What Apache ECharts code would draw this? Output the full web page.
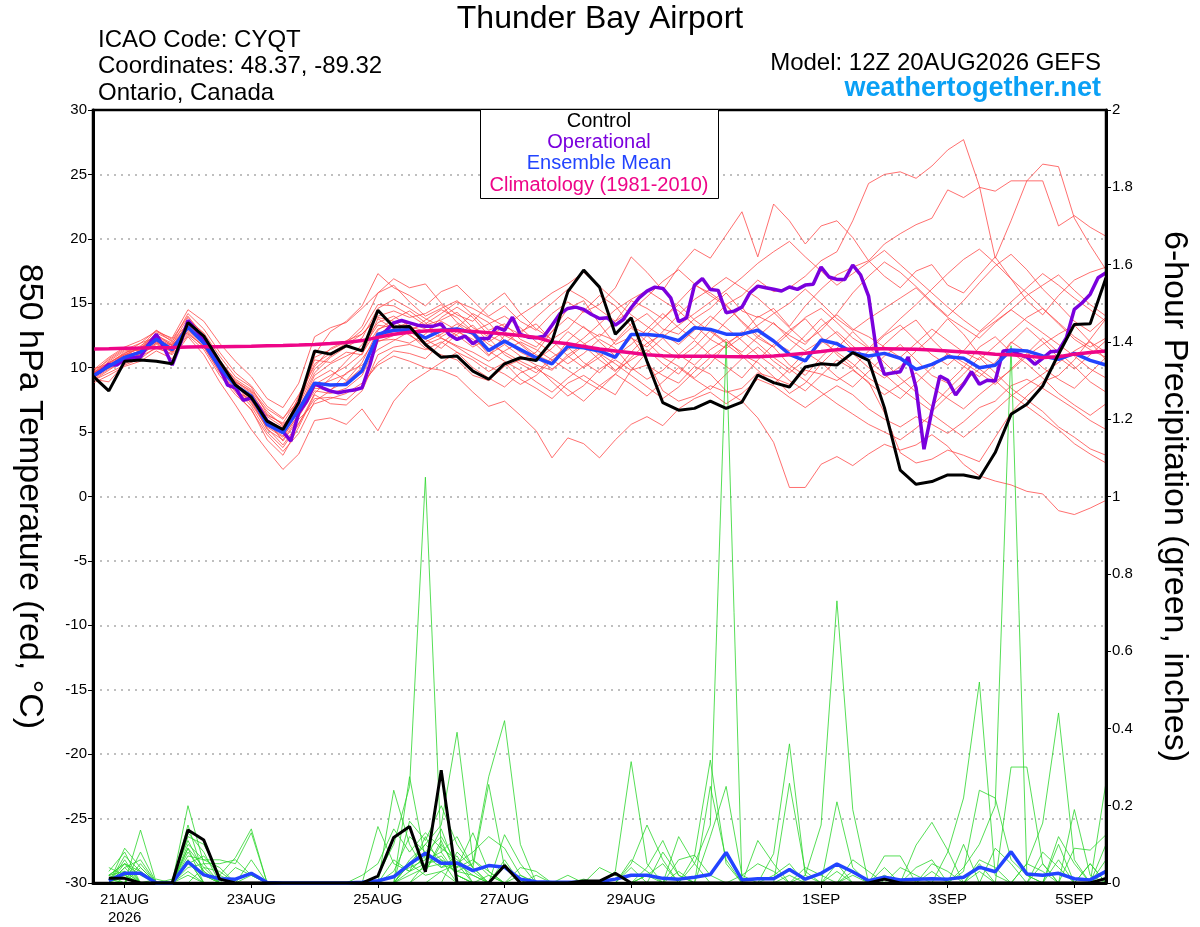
<!DOCTYPE html>
<html>
<head>
<meta charset="utf-8">
<script src="https://cdn.jsdelivr.net/npm/echarts/dist/echarts.min.js"></script>
<style>
html, body { margin: 0; padding: 0; background: #fff; }
#main { width: 1200px; height: 927px; }
</style>
</head>
<body>
<div id="main"></div>
<script>
// x axis: 3-hourly steps from 12Z 20AUG2026 to 12Z 5SEP2026 (129 steps)
var tickIndex = [4, 20, 36, 52, 68, 92, 108, 124];
var tickText = ['21AUG\n2026', '23AUG', '25AUG', '27AUG', '29AUG', '1SEP', '3SEP', '5SEP'];

// control run, 850 hPa temperature (6-hourly)
var control = [9.35,8.2,10.5,10.6,10.5,10.3,13.5,12.45,10.5,8.65,
  7.7,5.85,5.2,7.3,11.3,11.05,11.7,11.3,14.45,13.15,
  13.2,11.8,10.8,10.9,9.73,9.1,10.3,10.77,10.56,12.06,
  15.9,17.57,16.25,12.6,13.87,10.5,7.28,6.7,6.84,7.4,
  6.84,7.33,9.43,8.84,8.5,10.05,10.31,10.21,11.17,10.57,
  6.9,2.04,0.95,1.16,1.67,1.67,1.42,3.41,6.38,7.16,
  8.58,11.04,13.36,13.41,16.98];

// ensemble mean temperature (6-hourly)
var ensMean = [9.35,10.1,10.8,11.2,12.2,11.4,13.15,11.9,10.0,8.6,
  7.8,5.6,4.95,6.75,8.8,8.65,8.7,9.75,12.6,12.9,
  12.95,12.3,12.9,13.0,12.7,11.33,12.06,11.4,10.77,10.3,
  11.67,11.55,11.3,10.8,12.58,12.58,12.45,12.1,13.1,12.97,
  12.6,12.6,12.9,12.07,11.04,10.52,12.15,11.86,11.17,10.91,
  11.11,10.73,9.87,10.26,10.85,10.73,10.0,10.18,11.37,11.3,
  10.91,10.65,11.11,10.57,10.21];

// operational run temperature (3-hourly)
var operational = [9.35,9.73,10.25,10.2,10.64,10.77,10.82,11.8,12.58,11.54,
  10.2,11.8,13.66,12.96,12.06,11.03,10.0,8.65,8.44,7.46,
  7.66,6.9,5.85,5.47,5.03,4.3,6.5,7.4,8.75,8.44,
  8.18,8.05,8.18,8.26,8.44,10.25,12.45,12.84,13.48,13.66,
  13.48,13.3,13.22,13.22,13.4,12.58,12.19,12.45,11.85,12.27,
  12.27,13.15,12.9,13.92,12.58,12.37,12.32,12.45,13.3,14.18,
  14.6,14.7,14.52,14.13,13.82,13.87,13.3,13.74,14.65,15.42,
  15.94,16.25,16.15,15.42,13.56,13.87,16.4,16.92,16.07,16.0,
  14.26,14.39,14.7,15.81,16.33,16.2,16.08,15.95,16.26,16.08,
  16.41,16.47,17.81,17.04,16.85,16.85,17.97,17.19,15.56,11.3,
  9.48,9.59,9.69,10.83,8.45,3.67,6.64,9.35,9.02,7.88,
  8.71,9.69,8.71,9.02,8.97,11.3,11.35,11.04,10.83,10.26,
  10.73,11.24,11.3,12.33,14.53,15.04,15.69,16.98,17.37];

// climatology 1981-2010 (6-hourly)
var climatology = [11.45,11.47,11.5,11.52,11.55,11.57,11.6,11.62,11.63,11.65,
  11.67,11.7,11.72,11.75,11.8,11.87,11.95,12.1,12.35,12.6,
  12.75,12.85,12.9,12.88,12.8,12.72,12.62,12.5,12.35,12.0,
  11.85,11.65,11.45,11.3,11.15,11.0,10.92,10.88,10.88,10.88,
  10.86,10.85,10.85,10.9,11.0,11.12,11.25,11.4,11.45,11.47,
  11.47,11.45,11.42,11.38,11.3,11.22,11.15,11.05,11.0,10.9,
  10.78,10.85,11.05,11.18,11.3];

// ensemble members, temperature (6-hourly)
var m1 = [9.6,10.4,11.0,11.5,12.4,11.8,13.9,12.6,10.6,9.0, 8.1,6.2,5.4,7.0,10.8,11.4,12.0,13.2,15.8,16.4, 15.1,14.0,14.6,15.2,14.1,12.9,13.4,12.2,11.6,12.8, 13.9,13.1,12.4,13.6,15.2,14.6,13.8,15.1,16.4,15.8, 14.9,15.6,16.8,15.9,16.2,17.1,18.3,19.0,21.4,24.3, 25.0,25.2,24.7,25.65,26.9,27.7,24.1,18.5,21.4,24.5, 25.8,25.6,21.6,19.5,17.6];
var m2 = [9.0,9.8,10.6,11.0,11.9,11.2,12.8,11.6,9.6,8.2, 7.5,5.2,4.4,6.2,8.2,8.0,8.4,9.4,12.0,12.5, 12.8,12.0,12.6,13.4,12.5,11.0,11.8,10.9,10.2,9.8, 11.0,11.8,12.6,12.1,13.4,14.2,13.0,12.6,13.8,14.6, 15.8,14.4,13.9,14.6,13.2,14.8,16.1,17.2,17.8,18.3, 19.6,20.4,21.1,21.6,23.8,23.2,24.0,23.7,24.5,24.5, 24.5,21.0,21.8,20.9,20.2];
var m3 = [9.2,10.0,10.9,11.6,12.9,12.0,14.2,13.0,11.2,9.6, 8.6,7.0,6.1,7.4,11.0,12.8,13.6,14.8,17.3,16.2, 15.6,14.8,15.9,16.4,15.2,14.0,14.8,13.6,12.9,14.2, 15.1,14.3,14.9,16.2,18.6,17.4,16.0,17.8,19.2,18.5, 20.3,22.1,18.6,22.7,21.4,19.6,21.0,21.4,20.1,18.3, 17.1,16.2,17.5,18.0,16.4,15.8,17.2,18.6,16.9,15.2, 14.1,15.6,16.8,17.4,17.8];
var m4 = [9.0,9.6,10.2,10.7,11.6,11.0,12.5,11.4,9.4,7.9, 6.8,4.4,3.2,5.4,7.9,7.2,7.1,8.2,11.0,11.6, 11.8,11.4,12.0,11.2,10.6,9.7,10.4,9.1,8.4,7.6, 8.8,9.4,8.6,7.9,9.8,10.2,9.4,8.8,10.1,9.5, 8.2,7.4,6.1,4.2,0.7,0.7,2.5,3.1,2.4,3.3, 4.05,3.6,4.0,4.8,3.9,2.5,1.6,1.2,0.9,0.4, 0.2,-1.1,-1.4,-0.9,-0.3];
var m5 = [9.1,8.9,10.3,10.9,11.5,11.1,13.0,12.2,10.2,8.7, 7.4,5.8,5.0,7.8,10.6,10.4,11.2,11.0,13.8,13.0, 12.6,11.5,11.0,10.6,9.4,9.0,10.1,10.6,11.2,12.8, 14.6,15.2,13.4,11.8,12.4,10.6,8.2,7.4,7.8,8.6, 8.1,8.4,9.6,9.2,8.7,9.8,9.5,9.0,9.8,8.9, 6.5,3.4,2.6,2.9,3.6,3.2,2.7,4.6,6.5,7.8, 8.9,9.4,10.6,12.2,13.8];
var m6 = [9.5,10.2,10.9,11.3,12.0,11.6,12.9,11.8,10.1,8.8, 7.6,5.9,4.3,6.0,7.2,7.6,8.0,8.8,10.2,10.9, 10.5,10.0,9.8,9.3,8.1,7.0,7.4,6.3,5.1,3.0, 4.55,4.1,3.0,4.4,5.6,6.2,5.5,6.8,7.6,8.1, 7.2,8.0,9.1,8.6,7.7,6.9,7.8,8.6,7.9,6.8, 6.0,5.4,6.2,5.6,4.9,5.8,6.9,7.4,8.6,9.1, 8.4,7.6,6.8,5.9,5.2];
var m7 = [9.8,10.8,11.6,12.1,12.8,12.3,14.5,13.6,11.9,10.5, 9.3,7.6,6.9,8.8,12.4,13.1,13.5,14.6,15.8,16.9, 16.2,16.5,15.0,14.1,13.6,14.9,15.8,14.2,13.0,12.2, 13.0,14.4,15.6,14.8,13.2,12.6,13.8,14.9,13.7,12.8, 11.9,12.6,14.0,13.4,12.5,11.8,13.2,14.1,13.0,12.4, 11.6,10.8,11.9,13.0,12.1,11.2,10.6,11.7,12.8,13.9, 14.6,13.5,12.4,11.6,12.3];
var m8 = [8.8,9.4,10.1,10.5,11.3,10.7,12.4,11.0,8.9,7.1, 5.2,3.6,2.1,3.3,5.9,6.1,5.6,6.8,5.1,7.4, 8.8,9.6,10.4,11.2,10.0,9.2,8.5,9.6,10.1,8.9, 7.8,8.6,9.9,10.6,9.8,11.2,12.3,11.0,10.2,11.4, 12.2,11.0,10.4,9.3,8.0,8.8,10.3,11.5,12.8,11.6, 10.4,9.2,8.1,7.0,8.3,9.5,10.8,9.6,8.4,7.5, 6.6,5.4,4.6,3.7,3.2];
var m9 = [9.4,10.3,11.2,11.4,12.6,11.7,13.4,12.3,10.4,8.4, 7.0,5.0,3.8,5.6,8.0,9.2,10.5,11.8,13.5,14.0, 13.2,12.8,13.6,12.9,12.0,10.9,12.5,11.9,11.0,10.4, 12.1,13.2,12.0,10.9,11.8,13.0,14.2,13.1,12.2,13.6, 14.9,13.5,12.3,11.6,10.2,9.4,10.8,12.0,11.1,10.0, 9.2,10.1,11.3,12.4,13.8,12.6,11.0,10.2,11.9,13.1, 12.0,10.8,9.9,11.0,12.1];
var m10 = [9.7,10.6,11.4,11.9,12.9,12.2,14.0,12.4,10.1,8.9, 8.2,6.6,5.5,6.9,9.1,9.8,9.0,10.4,12.9,13.8, 14.4,13.5,12.4,13.1,14.2,13.5,12.1,11.2,10.6,11.5, 12.8,11.9,11.0,9.8,10.6,11.4,10.3,9.5,11.0,12.2, 13.6,14.7,13.1,12.0,11.3,12.5,13.8,12.6,11.4,10.5, 11.8,12.9,13.7,12.2,11.0,10.1,9.3,10.4,12.0,11.2, 10.0,9.1,8.4,9.6,10.8];
var m11 = [9.3,10.0,10.7,11.0,11.8,11.3,13.2,11.8,9.9,8.5, 7.9,6.0,5.2,7.1,9.6,10.8,11.6,12.3,14.6,15.3, 14.6,13.8,13.2,12.5,11.6,12.3,11.0,10.3,9.6,10.8, 11.6,10.4,9.6,10.9,12.3,11.6,12.8,14.1,15.3,16.1, 17.0,16.2,15.4,14.3,13.1,12.0,12.9,14.2,15.8,17.1, 18.2,17.4,16.3,15.1,14.0,15.2,16.6,17.9,18.8,17.6, 16.1,14.9,13.6,12.8,13.9];
var m12 = [9.6,10.1,10.8,11.3,12.3,11.5,13.5,12.0,9.8,8.3, 7.3,5.4,4.6,6.4,8.4,8.3,8.9,10.0,12.1,12.2, 11.9,12.6,13.9,14.7,13.9,12.5,11.9,12.8,13.4,12.1, 10.9,10.0,10.8,12.0,13.1,12.0,10.8,10.1,9.2,10.3, 11.8,10.9,9.8,8.7,9.9,11.2,10.4,9.3,8.5,9.7, 10.9,11.8,10.6,9.4,8.8,10.0,11.6,12.4,11.2,10.3, 9.2,8.0,7.1,6.3,7.2];
var m13 = [9.2,10.2,11.0,11.6,12.1,11.6,13.0,12.1,10.5,9.1, 8.3,6.8,6.0,7.9,10.1,11.5,12.1,12.6,14.0,14.4, 13.9,14.2,14.9,13.5,12.8,13.4,14.0,13.1,12.0,11.2, 10.3,11.1,12.2,11.5,10.0,9.1,9.8,11.0,12.1,11.0, 10.1,9.2,10.6,11.8,12.9,13.8,12.4,11.0,10.0,11.3, 12.5,13.3,12.1,11.0,10.2,11.3,12.7,13.6,14.5,15.6, 16.4,17.2,16.0,14.9,14.0];
var m14 = [9.9,10.3,11.1,11.7,12.5,11.9,13.3,12.2,10.3,8.6, 7.8,5.7,5.0,6.6,8.7,9.4,10.1,11.1,13.0,13.4, 12.5,11.8,12.3,11.6,10.8,10.1,9.5,8.7,9.4,10.6, 9.8,9.0,8.3,9.5,10.8,11.9,12.6,11.8,12.9,14.0, 13.1,12.1,11.0,10.1,9.0,8.2,9.4,10.6,9.9,8.8, 7.9,8.7,9.6,8.5,7.6,6.8,7.9,8.9,9.8,10.9, 11.8,12.6,13.3,12.0,10.6];
var m15 = [9.1,9.9,10.5,11.1,12.2,11.3,13.7,12.7,10.9,9.3, 8.5,6.4,5.6,6.8,9.4,10.3,10.9,11.5,13.3,13.1, 13.5,13.0,12.3,11.7,11.2,10.5,11.3,12.0,11.4,10.6, 11.4,12.3,13.4,14.5,15.3,16.0,15.2,14.4,13.3,12.2, 11.5,12.4,13.3,14.2,15.0,16.1,15.0,13.8,12.9,13.8, 14.6,15.4,16.2,15.0,13.9,13.1,12.3,13.5,14.5,13.6, 12.7,11.8,10.9,9.9,9.2];
var m16 = [9.4,10.5,11.3,11.5,12.7,12.1,13.4,12.3,10.2,8.8, 7.7,5.5,4.7,6.3,8.5,9.0,9.5,10.7,12.4,12.8, 13.1,12.2,11.5,12.6,13.3,12.0,12.8,11.8,10.8,9.9, 10.8,11.7,10.6,9.7,11.2,12.5,11.4,10.7,11.6,12.9, 12.0,11.2,12.4,13.5,12.2,11.3,12.1,11.2,10.3,9.2, 8.4,7.6,8.8,10.0,11.1,10.4,9.6,8.7,9.9,11.1, 12.3,11.2,10.1,8.9,8.1];
var m17 = [9.6,10.2,11.0,11.2,11.9,11.8,12.7,11.6,9.7,8.1, 6.7,4.8,3.5,4.9,7.4,8.2,9.6,10.2,11.4,12.1, 12.8,13.7,14.5,13.9,12.8,11.8,11.2,10.5,9.9,9.2, 8.3,7.4,8.6,9.5,8.7,7.8,8.9,10.0,9.1,8.3, 9.5,10.7,11.6,10.5,9.6,10.6,11.9,12.8,11.7,10.6, 9.5,8.4,7.5,6.6,7.8,8.9,9.9,9.0,7.9,7.0, 6.1,5.2,4.1,3.3,2.6];
var m18 = [9.3,10.4,11.1,11.9,12.4,11.4,13.1,12.0,10.0,8.5, 7.6,5.8,5.3,7.3,9.9,10.9,11.8,12.6,13.9,13.6, 12.9,13.4,14.2,15.1,14.6,13.9,13.2,12.6,13.9,15.0, 16.1,15.4,14.5,13.6,14.4,15.5,16.7,17.6,16.5,15.6, 14.8,13.6,12.5,11.6,12.7,13.9,14.6,13.5,12.3,11.5, 12.6,13.8,14.9,16.1,17.3,18.4,19.2,18.1,16.9,15.8, 14.6,13.4,12.2,11.4,10.8];
var m19 = [9.5,10.7,11.5,11.3,12.0,11.2,12.6,11.7,9.9,8.7, 7.2,5.3,4.0,5.7,7.6,7.7,7.5,8.6,10.4,11.3, 11.1,10.7,11.9,12.8,12.2,11.3,10.5,9.8,8.9,8.1, 9.2,10.1,11.1,10.3,9.4,8.5,7.6,8.5,9.7,10.8, 11.7,12.8,11.9,10.8,9.9,9.0,8.1,7.2,6.4,5.6, 5.0,4.4,5.3,6.4,5.5,4.6,5.6,6.7,7.8,8.7, 9.5,10.4,11.3,12.0,11.2];
var m20 = [9.7,10.0,10.6,11.4,12.3,11.7,13.2,12.1,10.3,8.9, 8.0,6.3,5.7,7.6,10.3,11.1,11.9,12.9,14.9,14.8, 14.1,13.3,13.7,14.3,13.1,12.4,13.2,14.1,14.9,15.8, 16.5,17.4,16.3,15.2,14.1,13.2,12.4,13.3,14.2,15.1, 16.0,17.0,18.1,19.0,19.8,18.6,17.5,16.4,17.3,18.2, 19.1,18.0,16.9,15.8,14.7,13.7,12.8,13.9,15.1,16.2, 17.3,16.4,15.4,14.5,13.6];
var tempMembers = [m1, m2, m3, m4, m5, m6, m7, m8, m9, m10, m11, m12, m13, m14, m15, m16, m17, m18, m19, m20];

// 6-hour precipitation, inches (first step has no value)
var controlPrecip = [null,.012,.012,0,0,0,.137,.111,.01,0, 0,0,0,0,0,0,0,0,.018,.118, .146,.029,.292,0,0,0,.045,0,0,0, 0,.005,.005,.025,0,0,0,0,0,0, 0,0,0,0,0,0,0,0,0,0, .01,0,0,0,0,0,0,0,0,0, 0,0,0,0,.012];
var meanPrecip = [null,.006,.025,.025,0,0,.055,.021,.011,.01, .025,.001,0,0,0,0,0,.002,.006,.016, .049,.077,.051,.052,.032,.045,.041,.01,.003,.002, .002,.002,.003,.01,.02,.02,.012,.01,.015,.022, .079,.008,.011,.011,.035,.01,.025,.049,.029,.006, .015,.008,.01,.011,.01,.015,.041,.029,.081,.023, .02,.025,.011,.008,.03];

var p1 = [null,.02,.05,.03,0,0,.09,.04,0,0, 0,0,0,0,0,0,0,0,.02,.1, .25,1.05,.08,.02,0,0,.05,0,0,0, 0,0,0,0,.04,0,0,0,0,0, 0,0,0,0,.02,0,0,0,0,0, 0,0,.04,.06,0,0,0,0,0,0, 0,0,0,0,0];
var p2 = [null,0,.09,.04,0,0,.2,.05,0,0, .02,0,0,0,0,0,0,0,0,.03, .12,.08,.12,.05,0,.02,0,0,0,0, 0,0,0,0,0,0,0,0,.05,.15, 1.4,0,0,0,0,0,0,.05,0,0, 0,0,0,0,0,0,.03,0,0,0, 0,.1,0,0,0];
var p3 = [null,.01,0,.137,0,0,.05,.07,.02,.066, .14,0,0,0,0,0,0,0,0,0, .05,.1,.06,.04,.13,.03,0,0,0,0, 0,0,0,0,0,.02,0,0,0,0, 0,0,0,0,0,0,0,0,0,0, 0,0,0,0,0,.04,.1,.2,1.39,.02, 0,0,0,.05,0];
var p4 = [null,0,.06,0,.01,0,.13,.08,0,0, 0,0,0,0,0,0,0,0,.146,.05, .03,.12,.04,.07,0,0,0,.02,0,0, 0,0,0,0,0,0,0,0,0,0, 0,0,0,0,0,.02,.15,.73,.19,0, 0,0,0,.03,0,0,0,0,0,0, .05,0,0,0,0];
var p5 = [null,.03,.08,0,0,.01,.11,.03,0,0, 0,0,0,0,0,0,0,0,0,.24, .1,.03,.11,.02,0,0,0,0,0,0, 0,0,0,0,0,0,0,.12,.05,0, 0,0,0,0,0,0,0,0,0,0, 0,0,0,0,.08,.22,.52,.02,0,0, 0,0,0,0,.26];
var p6 = [null,0,.04,.06,0,0,.15,.02,0,0, 0,0,0,0,0,0,0,0,0,0, .275,.06,.14,.03,.05,.275,.42,.1,0,0, 0,.01,0,0,0,0,0,0,0,0, 0,0,.11,.05,0,0,0,0,0,0, .07,.07,0,0,0,0,0,0,0,0, 0,0,.19,.02,0];
var p7 = [null,.02,.05,0,0,0,.07,.06,.06,.05, .13,0,0,0,0,0,0,0,0,0, .06,.1,.15,.39,.06,.02,0,0,0,0, 0,0,0,0,.05,.15,.06,0,0,0, 0,0,0,0,0,0,0,0,.03,0, 0,0,0,0,0,0,0,.09,.05,0, 0,0,0,0,0];
var p8 = [null,0,0,.08,0,0,.09,0,0,0, 0,0,0,0,0,0,0,0,0,.02, .04,.06,.08,.12,.04,0,0,0,0,0, 0,0,0,.03,.314,.05,0,0,.07,.318, .05,0,0,0,0,0,0,0,0,0, 0,0,.098,.157,.085,0,0,0,0,0, 0,.06,0,0,0];
var p9 = [null,0,.03,0,0,0,0,.04,.03,0, 0,0,0,0,0,0,0,0,0,0, 0,.05,.07,.02,0,0,.125,.05,0,0, 0,0,0,0,0,0,0,0,0,0, 0,0,0,.076,.36,.02,0,0,0,0, 0,0,0,0,0,0,0,0,0,.05, .155,.44,.06,0,.1];
var p10 = [null,.02,.03,0,0,0,.06,0,0,0, .06,0,0,0,0,0,0,.02,.05,.14, .08,.13,.09,.06,.03,0,0,0,.02,0, 0,0,0,0,0,0,.08,.02,0,0, 0,0,0,0,.258,.03,0,0,0,0, 0,0,0,0,0,.03,.24,.22,.06,.02, 0,0,0,0,0];
var p11 = [null,0,.07,.03,0,0,.1,.06,.04,0, 0,0,0,0,0,0,0,0,0,0, .16,.11,.2,.1,.04,.255,.04,0,0,0, 0,0,0,0,0,.04,.11,.02,0,0, 0,0,0,0,0,0,0,.21,.04,0, 0,0,0,0,0,0,0,0,.3,.3, .05,0,0,0,0];
var p12 = [null,.01,0,.05,0,0,.05,.02,0,0, 0,0,0,0,0,0,0,0,0,0, .02,.04,.05,.03,.02,0,0,0,0,0, 0,0,.04,.02,0,0,0,0,0,.25, .06,0,0,0,0,0,0,0,.02,0, .04,0,0,0,0,.1,0,0,0,0, 0,0,.09,.085,.125];
var p13 = [null,0,.02,0,0,0,.12,.1,.02,0, 0,0,0,0,0,0,0,0,0,0, 0,0,.03,.05,.08,.12,.09,.02,0,0, 0,0,0,0,0,0,0,.06,.072,.02, 0,0,0,0,0,0,0,0,0,0, 0,.04,.02,0,0,0,0,0,0,0, .08,.04,0,0,0];
var p14 = [null,.04,.02,0,0,0,.03,0,0,.04, .02,0,0,0,0,0,0,0,0,.06, .03,.07,.04,.05,.02,0,0,0,0,0, .02,0,0,0,0,0,0,0,0,0, 0,.02,.05,.03,0,0,0,0,0,0, 0,0,0,0,0,0,.06,.04,0,0, 0,0,0,0,.06];
var p15 = [null,0,.05,.02,0,0,.08,.03,0,0, 0,0,0,0,0,0,0,0,0,0, 0,.03,.1,.04,.06,.03,0,0,0,0, 0,0,0,0,0,.02,.05,0,0,0, 0,0,0,0,0,.04,.02,0,0,0, 0,0,0,.05,.03,0,0,0,0,0, 0,0,0,.05,0];
var p16 = [null,.02,0,0,0,0,.04,.05,.05,.06, .02,0,0,0,0,0,0,0,0,0, .03,.05,.06,0,0,0,0,.04,.03,0, 0,0,0,0,0,0,0,0,0,.12, .25,.02,0,0,0,0,0,0,0,0, .02,0,0,0,0,0,0,0,0,.05, .03,0,0,0,0];
var p17 = [null,0,0,.04,0,0,.06,0,0,0, 0,0,0,0,0,0,0,0,0,0, 0,0,0,.08,.04,0,0,0,0,0, 0,0,0,0,.06,.03,0,0,0,0, 0,0,0,.02,.05,0,0,0,.06,.03, 0,0,0,0,0,0,0,0,0,0, 0,.12,.05,0,0];
var p18 = [null,0,.04,0,0,0,.02,0,0,0, 0,0,0,0,0,0,0,0,0,0, .05,.02,.03,0,0,0,.06,0,0,0, 0,0,0,0,0,0,0,.03,0,0, 0,0,0,0,0,0,0,.03,0,0, 0,0,0,0,0,0,.05,0,0,0, 0,0,0,0,.03];
var precipMembers = [p1, p2, p3, p4, p5, p6, p7, p8, p9, p10, p11, p12, p13, p14, p15, p16, p17, p18];

// build the 3-hourly category axis
var steps = [];
var t0 = Date.UTC(2026, 7, 20, 12);
var months = ['JAN','FEB','MAR','APR','MAY','JUN','JUL','AUG','SEP','OCT','NOV','DEC'];
for (var k = 0; k <= 128; k++) {
    var d = new Date(t0 + k * 3 * 3600 * 1000);
    steps.push(String(d.getUTCHours()).padStart(2, '0') + 'Z' + d.getUTCDate() + months[d.getUTCMonth()]);
}

// 6-hourly values sit on every other 3-hourly category
function sixHourly(arr) {
    var out = [];
    arr.forEach(function (v, i) {
        out.push(v);
        if (i < arr.length - 1) out.push(null);
    });
    return out;
}

var FONT = '"Liberation Sans", Arial, sans-serif';

function line(data, color, width, axis, z) {
    return {
        type: 'line', data: data, yAxisIndex: axis, symbol: 'none', connectNulls: true,
        silent: true, z: z, lineStyle: { color: color, width: width }
    };
}

var series = [];
tempMembers.forEach(function (m) { series.push(line(sixHourly(m), '#ff4a4a', 0.8, 0, 2)); });
precipMembers.forEach(function (m) { series.push(line(sixHourly(m), '#2bd62b', 0.8, 1, 3)); });
series.push(line(operational, '#7a00dd', 3.5, 0, 4));
series.push(line(sixHourly(ensMean), '#2244ff', 3.5, 0, 5));
series.push(line(sixHourly(meanPrecip), '#2244ff', 3.5, 1, 5));
series.push(line(sixHourly(climatology), '#ee0588', 3.5, 0, 6));
series.push(line(sixHourly(control), '#000000', 3, 0, 7));
series.push(line(sixHourly(controlPrecip), '#000000', 3, 1, 7));

var myChart = echarts.init(document.getElementById('main'));
myChart.setOption({
    animation: false,
    backgroundColor: '#fff',
    grid: { left: 93, right: 94, top: 110, bottom: 44, show: true, borderColor: '#000', borderWidth: 2.5, z: 10 },
    xAxis: {
        type: 'category', data: steps, boundaryGap: false,
        axisLine: { onZero: false, lineStyle: { color: '#000', width: 3 } },
        axisTick: { length: 5, lineStyle: { color: '#000', width: 1 },
            interval: function (i) { return tickIndex.indexOf(i) >= 0; } },
        axisLabel: { color: '#000', fontSize: 15, fontFamily: FONT, margin: 8, lineHeight: 18,
            interval: function (i) { return tickIndex.indexOf(i) >= 0; },
            formatter: function (v, i) { var n = tickIndex.indexOf(i); return n >= 0 ? tickText[n] : ''; } },
        splitLine: { show: false }
    },
    yAxis: [{
        type: 'value', min: -30, max: 30, interval: 5, position: 'left',
        name: '850 hPa Temperature (red, \u00b0C)', nameLocation: 'middle', nameGap: 47, nameRotate: -90,
        nameTextStyle: { color: '#000', fontSize: 34, fontFamily: FONT },
        axisLine: { show: true, lineStyle: { color: '#000', width: 3 } },
        axisTick: { show: true, length: 5, lineStyle: { color: '#000', width: 1 } },
        axisLabel: { color: '#000', fontSize: 15, fontFamily: FONT, margin: 6 },
        splitLine: { show: true, showMinLine: false, showMaxLine: false,
            lineStyle: { color: '#aaa', width: 1.5, type: [2, 5] } }
    }, {
        type: 'value', min: 0, max: 2, interval: 0.2, position: 'right',
        name: '6-hour Precipitation (green, inches)', nameLocation: 'middle', nameGap: 51, nameRotate: -90,
        nameTextStyle: { color: '#000', fontSize: 34, fontFamily: FONT },
        axisLine: { show: true, lineStyle: { color: '#000', width: 3 } },
        axisTick: { show: true, length: 5, lineStyle: { color: '#000', width: 1 } },
        axisLabel: { color: '#000', fontSize: 15, fontFamily: FONT, margin: 6 },
        splitLine: { show: false }
    }],
    series: series,
    graphic: [
        { type: 'text', left: 'center', top: 3, style: { text: 'Thunder Bay Airport', font: '32px ' + FONT, fill: '#000' } },
        { type: 'text', x: 98, y: 40, style: { text: 'ICAO Code: CYQT', font: '24px ' + FONT, fill: '#000', textVerticalAlign: 'middle' } },
        { type: 'text', x: 98, y: 66, style: { text: 'Coordinates: 48.37, -89.32', font: '24px ' + FONT, fill: '#000', textVerticalAlign: 'middle' } },
        { type: 'text', x: 98, y: 93, style: { text: 'Ontario, Canada', font: '24px ' + FONT, fill: '#000', textVerticalAlign: 'middle' } },
        { type: 'text', x: 1101, y: 63, style: { text: 'Model: 12Z 20AUG2026 GEFS', font: '24px ' + FONT, fill: '#000', textAlign: 'right', textVerticalAlign: 'middle' } },
        { type: 'text', x: 1101, y: 89, style: { text: 'weathertogether.net', font: 'bold 27px ' + FONT, fill: '#0aa0f5', textAlign: 'right', textVerticalAlign: 'middle' } },
        { type: 'rect', z: 100, shape: { x: 480.5, y: 109.5, width: 238, height: 89 }, style: { fill: '#fff', stroke: '#000', lineWidth: 1 } },
        { type: 'text', z: 101, x: 599, y: 121, style: { text: 'Control', font: '20px ' + FONT, fill: '#000', textAlign: 'center', textVerticalAlign: 'middle' } },
        { type: 'text', z: 101, x: 599, y: 142, style: { text: 'Operational', font: '20px ' + FONT, fill: '#7a00dd', textAlign: 'center', textVerticalAlign: 'middle' } },
        { type: 'text', z: 101, x: 599, y: 163, style: { text: 'Ensemble Mean', font: '20px ' + FONT, fill: '#2244ff', textAlign: 'center', textVerticalAlign: 'middle' } },
        { type: 'text', z: 101, x: 599, y: 185, style: { text: 'Climatology (1981-2010)', font: '20px ' + FONT, fill: '#ee0588', textAlign: 'center', textVerticalAlign: 'middle' } }
    ]
});
</script>
</body>
</html>
